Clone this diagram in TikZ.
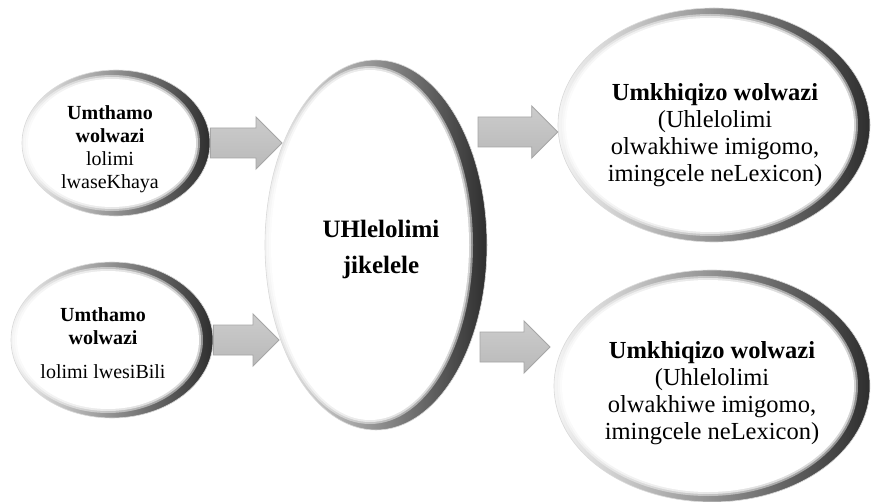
\documentclass[tikz,border=0pt]{standalone}
\usepackage{fontspec}
\setmainfont{Liberation Serif}
\usetikzlibrary{calc,shapes.geometric}

\tikzset{
  bubble/.style={ellipse, inner sep=0pt, draw=gray!30, line width=0.6pt,
    left color=gray!8, right color=black!82},
  bubbletext/.style={align=center, inner sep=0pt, text=black},
  blockarrow/.style={top color=gray!40, bottom color=gray!55, draw=gray!70,
    line width=0.9pt, line join=miter,
    to path={let \p1=(\tikztostart), \p2=(\tikztotarget) in
      (\x1,\y1+15pt) -- (\x2-26pt,\y1+15pt) -- (\x2-26pt,\y1+26pt) -- (\x2,\y1)
      -- (\x2-26pt,\y1-26pt) -- (\x2-26pt,\y1-15pt) -- (\x1,\y1-15pt) -- cycle}}
}

% white face of a bubble: soft edge, then solid
\newcommand\bubbleface[4]{%
  \fill[white, opacity=0.45] ($(#1)+(#2,0)$) ellipse [x radius=#3+4, y radius=#4+4];
  \fill[white, opacity=0.6] ($(#1)+(#2,0)$) ellipse [x radius=#3+2, y radius=#4+2];
  \fill[white] ($(#1)+(#2,0)$) ellipse [x radius=#3, y radius=#4];}

\begin{document}
\begin{tikzpicture}[x=1pt,y=-1pt]
\useasboundingbox (0,0) rectangle (872,502);
\fill[white] (0,0) rectangle (872,502);

% bubbles
\node[bubble, minimum width=188pt, minimum height=146pt] (tl) at (116,143) {};
\bubbleface{tl}{-4}{84}{64}
\node[bubble, minimum width=202pt, minimum height=156pt] (bl) at (112,340) {};
\bubbleface{bl}{-4}{91}{69}
\node[bubble, minimum width=222pt, minimum height=370pt] (c) at (376,245) {};
\bubbleface{c}{-6}{99}{175}
\node[bubble, minimum width=312pt, minimum height=234pt] (tr) at (714,125) {};
\bubbleface{tr}{-4}{144}{107}
\node[bubble, minimum width=316pt, minimum height=232pt] (br) at (712,386) {};
\bubbleface{br}{-4}{146}{106}

% arrows
\coordinate (a1) at (282,143);
\coordinate (a2) at (279,340);
\coordinate (a3) at (478,132);
\coordinate (a4) at (480,347);
\coordinate (a4e) at (550,347);
\draw[blockarrow] (tl.east) to (a1);
\draw[blockarrow] (bl.east) to (a2);
\draw[blockarrow] (a3) to (tr.west);
\draw[blockarrow] (a4) to (a4e);

% texts
\node[bubbletext, font=\fontsize{20}{23}\selectfont] (tlt) at ($(tl)+(-6,6)$)
  {\textbf{Umthamo}\\\textbf{wolwazi}\\lolimi\\lwaseKhaya};
\node[bubbletext, font=\fontsize{20}{23}\selectfont] (blt) at ($(bl)+(-9,3)$)
  {\textbf{Umthamo}\\\textbf{wolwazi}\\[11pt]lolimi lwesiBili};
\node[bubbletext, font=\fontsize{25}{36}\selectfont\bfseries] (ct) at ($(c)+(5,4)$)
  {UHlelolimi\\jikelele};
\node[bubbletext, font=\fontsize{24.5}{27}\selectfont] (trt) at ($(tr)+(1,10)$)
  {\textbf{Umkhiqizo wolwazi}\\(Uhlelolimi\\olwakhiwe imigomo,\\imingcele neLexicon)};
\node[bubbletext, font=\fontsize{24.5}{27}\selectfont] (brt) at ($(br)+(0,7)$)
  {\textbf{Umkhiqizo wolwazi}\\(Uhlelolimi\\olwakhiwe imigomo,\\imingcele neLexicon)};
\end{tikzpicture}
\end{document}
